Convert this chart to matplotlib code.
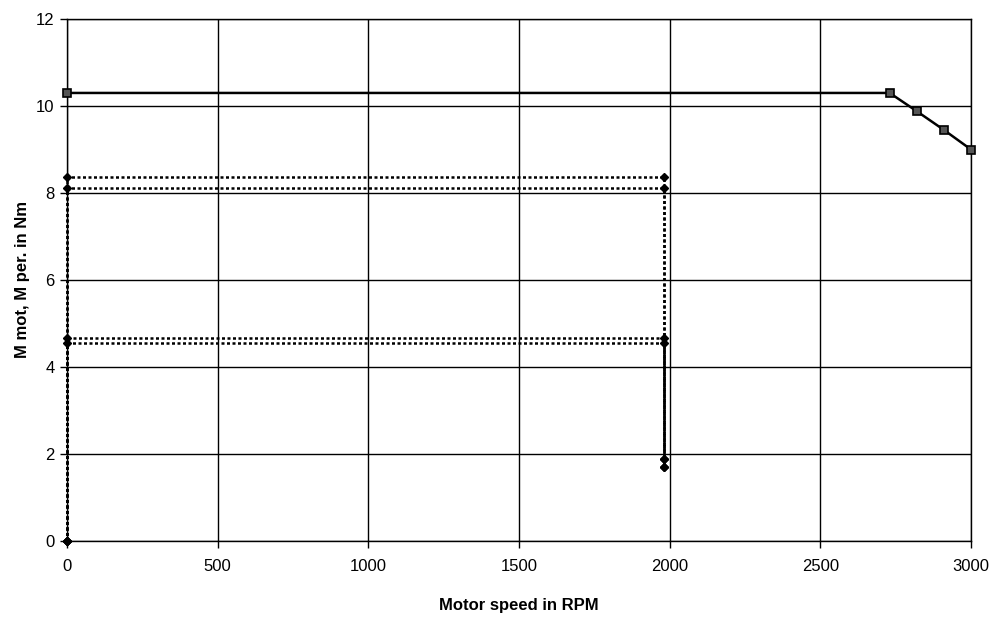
import matplotlib
matplotlib.use("Agg")
import matplotlib.pyplot as plt

plt.rcParams['font.family'] = ['Liberation Sans', 'DejaVu Sans']

# Motor torque curve
motor_speed = [0, 2730, 2820, 2910, 3000]
motor_torque = [10.3, 10.3, 9.88, 9.45, 9.0]

# Load (peripheral) torque profiles
load_speed = [0, 0, 1980, 1980]
load_torque_1 = [0, 8.37, 8.37, 1.70]
load_torque_2 = [0, 8.11, 8.11, 1.89]
load_torque_3 = [0, 4.67, 4.67, 1.70]
load_torque_4 = [0, 4.55, 4.55, 1.89]

x_ticks = [0, 500, 1000, 1500, 2000, 2500, 3000]
y_ticks = [0, 2, 4, 6, 8, 10, 12]

fig = plt.figure(figsize=(9.95, 6.21), dpi=100)
ax = fig.add_axes([67/995, 80/621, 904/995, 522/621])

for yt in y_ticks:
    ax.axhline(yt, color='black', lw=1.0, zorder=1)
for xt in x_ticks:
    ax.axvline(xt, color='black', lw=1.0, zorder=1)

for lt in [load_torque_1, load_torque_2, load_torque_3, load_torque_4]:
    ax.plot(load_speed, lt, color='black', lw=1.8, linestyle=(0, (1.2, 1.0)),
            marker='D', markersize=4, markerfacecolor='black', zorder=3, clip_on=False)

ax.plot(motor_speed, motor_torque, color='black', lw=1.8, marker='s', markersize=5.5,
        markerfacecolor='#555555', markeredgecolor='black', markeredgewidth=1.2,
        zorder=4, clip_on=False)

ax.set_xlim(0, 3000)
ax.set_ylim(0, 12)
ax.set_xticks(x_ticks)
ax.set_yticks(y_ticks)
ax.tick_params(axis='both', labelsize=12, direction='out', length=5, width=1)
ax.tick_params(axis='x', pad=8)
ax.tick_params(axis='y', pad=4)
for s in ax.spines.values():
    s.set_color('black')
    s.set_linewidth(1.0)

ax.set_xlabel('Motor speed in RPM', fontsize=12, fontweight='bold', labelpad=17)
ax.set_ylabel('M mot, M per. in Nm', fontsize=12, fontweight='bold', labelpad=4)

fig.savefig('out.png', dpi=100)
